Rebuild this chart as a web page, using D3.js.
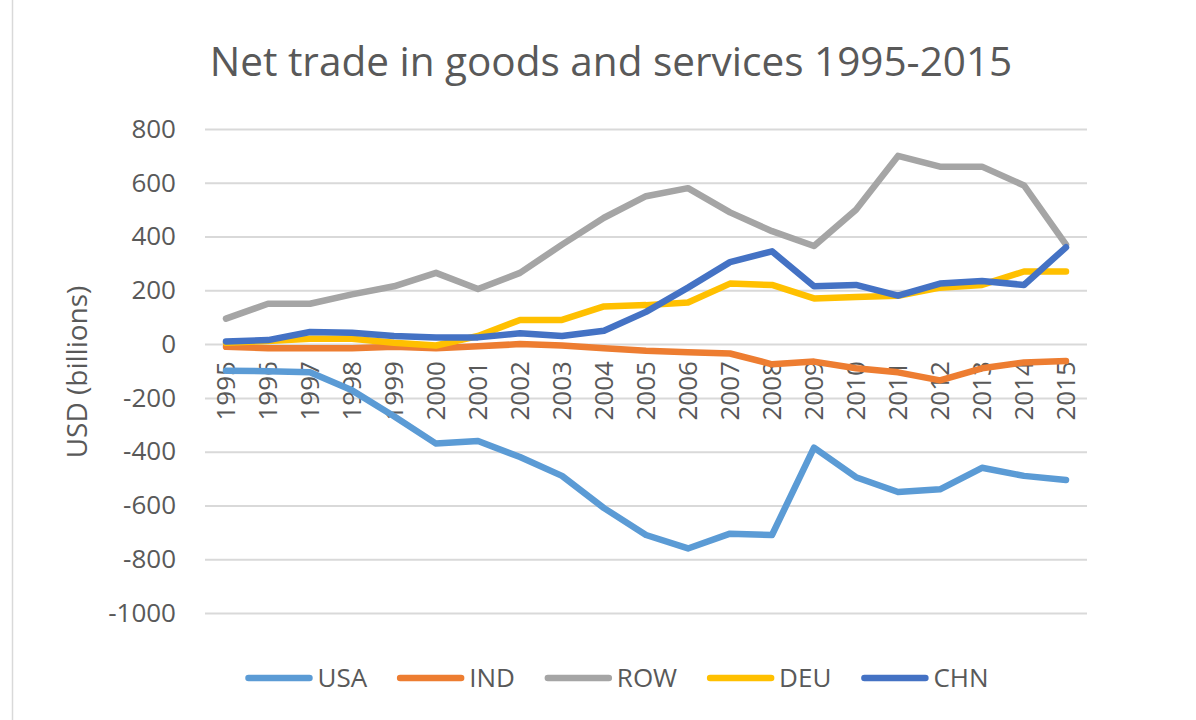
<!DOCTYPE html>
<html>
<head>
<meta charset="utf-8">
<script src="https://cdn.jsdelivr.net/npm/d3@7"></script>
<style>
  body { margin: 0; background: #fff; }
  text { font-family: "Open Sans", sans-serif; fill: #595959; }
</style>
</head>
<body>
<svg id="vis"></svg>
<script>
// chart data
const YEARS = ['1995','1996','1997','1998','1999','2000','2001','2002','2003','2004','2005',
               '2006','2007','2008','2009','2010','2011','2012','2013','2014','2015']
const SERIES = ['USA', 'IND', 'ROW', 'DEU', 'CHN']
const COLORS = ['#5B9BD5', '#ED7D31', '#A5A5A5', '#FFC000', '#4472C4']
const USA = [-99, -101, -105, -172, -268, -370, -360, -420, -490, -610, -710,
             -760, -705, -710, -385, -495, -550, -540, -460, -490, -505]
const IND = [-10, -15, -15, -15, -10, -15, -8, 0, -5, -15, -25,
             -30, -35, -75, -65, -90, -105, -135, -90, -68, -63]
const ROW = [95, 150, 150, 185, 215, 265, 205, 265, 370, 470, 550,
             580, 490, 420, 365, 500, 700, 660, 660, 590, 370]
const DEU = [5, 12, 20, 20, 5, -5, 30, 90, 90, 140, 145,
             155, 225, 220, 170, 175, 180, 210, 220, 270, 270]
const CHN = [10, 15, 45, 42, 30, 25, 25, 40, 30, 50, 120,
             210, 305, 345, 215, 220, 180, 225, 235, 220, 360]
const Y_TICKS = [800, 600, 400, 200, 0, -200, -400, -600, -800, -1000]
const VALUES = [USA, IND, ROW, DEU, CHN]

const W = 1196, H = 720
const PLOT = {left: 205, right: 1087, top: 129, bottom: 613}

var svg = d3.select('#vis')
    .attr('width', W)
    .attr('height', H)

// chart area border
svg.append('rect')
    .attr('x', 12.5)
    .attr('y', -5)
    .attr('width', 1200)
    .attr('height', H + 10)
    .attr('fill', 'none')
    .attr('stroke', '#D9D9D9')
    .attr('stroke-width', 1.5)

var x = d3.scaleBand()
    .domain(YEARS)
    .range([PLOT.left, PLOT.right])

var y = d3.scaleLinear()
    .domain([-1000, 800])
    .range([PLOT.bottom, PLOT.top])

// title
svg.append('text')
    .attr('x', 611)
    .attr('y', 76)
    .attr('font-size', '40.5px')
    .style('text-anchor', 'middle')
    .text('Net trade in goods and services 1995-2015')

// gridlines
var yAxis = svg.append('g')
    .attr('transform', `translate(${PLOT.left},0)`)
    .call(d3.axisLeft(y)
        .tickValues(Y_TICKS)
        .tickSize(-(PLOT.right - PLOT.left))
        .tickPadding(29)
        .tickFormat(d => String(d)))
yAxis.select('.domain').remove()
yAxis.selectAll('.tick line')
    .attr('stroke', '#D9D9D9')
    .attr('stroke-width', 2)
yAxis.selectAll('.tick text')
    .attr('font-size', '26px')
    .attr('font-family', '"Open Sans", sans-serif')
    .attr('fill', '#595959')

// axis title
svg.append('text')
    .attr('transform', 'translate(77,372) rotate(-90)')
    .attr('dy', '0.35em')
    .attr('font-size', '28px')
    .style('text-anchor', 'middle')
    .text('USD (billions)')

// category labels, drawn below the zero line
var xAxis = svg.append('g')
    .attr('transform', `translate(0,${y(0)})`)
    .call(d3.axisBottom(x).tickSize(0).tickPadding(0))
xAxis.select('.domain').remove()
xAxis.selectAll('.tick text')
    .attr('font-size', '26px')
    .attr('font-family', '"Open Sans", sans-serif')
    .attr('fill', '#595959')
    .attr('transform', 'rotate(-90)')
    .attr('x', -17)
    .attr('y', 0)
    .attr('dy', '0.35em')
    .style('text-anchor', 'end')

// series lines
var line = d3.line()
    .x((d, i) => x(YEARS[i]) + x.bandwidth() / 2)
    .y(d => y(d))

SERIES.forEach(function(name, k) {
    svg.append('path')
        .datum(VALUES[k])
        .attr('d', line)
        .attr('fill', 'none')
        .attr('stroke', COLORS[k])
        .attr('stroke-width', 6.5)
        .attr('stroke-linejoin', 'round')
        .attr('stroke-linecap', 'round')
})

// legend
var legend = svg.append('g')
var lx = 0
SERIES.forEach(function(name, k) {
    legend.append('line')
        .attr('x1', lx + 3)
        .attr('x2', lx + 64)
        .attr('y1', 0)
        .attr('y2', 0)
        .attr('stroke', COLORS[k])
        .attr('stroke-width', 6.5)
        .attr('stroke-linecap', 'round')
    var t = legend.append('text')
        .attr('x', lx + 72)
        .attr('y', 0)
        .attr('dy', '0.35em')
        .attr('font-size', '26px')
        .text(name)
    lx += 72 + t.node().getComputedTextLength() + 30
})
lx -= 30
legend.attr('transform', `translate(${617 - lx / 2},678)`)
</script>
</body>
</html>
